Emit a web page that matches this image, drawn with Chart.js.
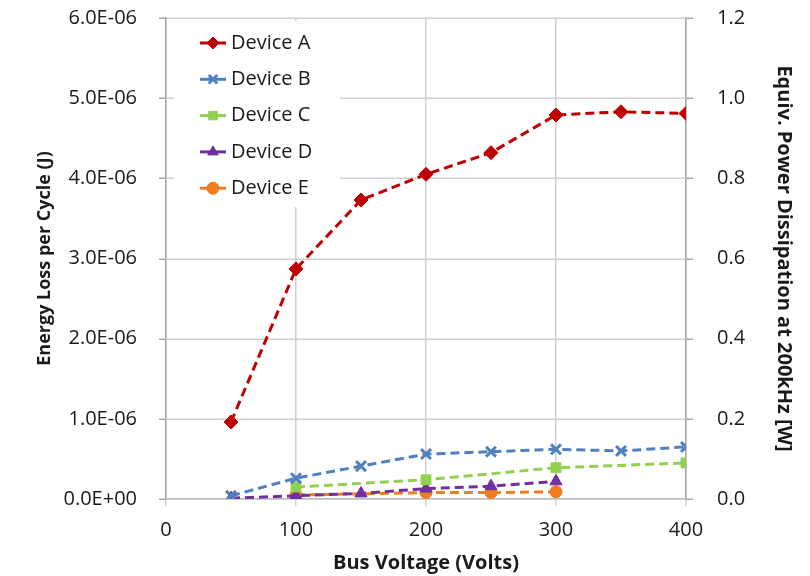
<!DOCTYPE html>
<html>
<head>
<meta charset="utf-8">
<script src="https://cdn.jsdelivr.net/npm/chart.js@4.4.1/dist/chart.umd.min.js"></script>
<style>
  html, body { margin: 0; padding: 0; background: #fff; }
  #wrap { width: 810px; height: 576px; }
</style>
</head>
<body>
<div id="wrap"><canvas id="lossChart" width="810" height="576"></canvas></div>
<script>
// Data (energy in J)
const voltsA = [50, 100, 150, 200, 250, 300, 350, 400];
const deviceA = [0.96e-6, 2.87e-6, 3.73e-6, 4.05e-6, 4.32e-6, 4.79e-6, 4.83e-6, 4.81e-6];
const voltsB = [50, 100, 150, 200, 250, 300, 350, 400];
const deviceB = [0.04e-6, 0.26e-6, 0.41e-6, 0.56e-6, 0.59e-6, 0.62e-6, 0.60e-6, 0.65e-6];
const voltsC = [100, 200, 300, 400];
const deviceC = [0.15e-6, 0.24e-6, 0.39e-6, 0.45e-6];
const voltsD = [50, 100, 150, 200, 250, 300];
const deviceD = [0.01e-6, 0.04e-6, 0.07e-6, 0.13e-6, 0.16e-6, 0.22e-6];
const voltsE = [100, 200, 250, 300];
const deviceE = [0.05e-6, 0.08e-6, 0.08e-6, 0.09e-6];

const xMax = 400, xStep = 100;
const energyMax = 6e-6, energyStep = 1e-6;
const powerMax = 1.2, powerStep = 0.2;

const FONT = "'Open Sans', 'Noto Sans', sans-serif";
const TEXT = '#1a1a1a';
const GRID = '#D0D0D0';
const AXIS = '#A6A6A6';

function pairs(xs, ys) {
    return xs.map((x, i) => ({ x: x, y: ys[i] }));
}

// Excel-like 0.0E+00 labels
function sciLabel(v) {
    if (Math.abs(v) < 1e-12) return '0.0E+00';
    let e = Math.floor(Math.log10(Math.abs(v)) + 1e-9);
    let m = (v / Math.pow(10, e)).toFixed(1);
    let sign = e < 0 ? '-' : '+';
    return m + 'E' + sign + String(Math.abs(e)).padStart(2, '0');
}

function series(label, xs, ys, color, style) {
    return {
        label: label,
        data: pairs(xs, ys),
        borderColor: color,
        backgroundColor: color,
        borderWidth: 3,
        borderDash: [9, 5],
        pointStyle: style,
        pointRadius: style === 'circle' ? 6 : 7,
        pointBorderWidth: style === 'crossRot' ? 3 : 1,
        pointBorderColor: color,
        pointBackgroundColor: color,
        tension: 0,
        yAxisID: 'y'
    };
}

// vertical axes: fixed width, no extra top/bottom room for the labels
function fixSide(width) {
    return (axis) => {
        axis.width = width;
        axis.paddingTop = 0;
        axis.paddingBottom = 0;
    };
}

// horizontal grid + outer tick marks, taken from the scales' own ticks
const valueGrid = {
    id: 'valueGrid',
    beforeDatasetsDraw(chart) {
        const ctx = chart.ctx;
        const area = chart.chartArea;
        const yS = chart.scales.y, y1S = chart.scales.y1;
        ctx.save();
        ctx.lineWidth = 1.5;
        yS.ticks.forEach(t => {
            const py = Math.round(yS.getPixelForValue(t.value)) + 0.25;
            ctx.strokeStyle = GRID;
            ctx.beginPath();
            ctx.moveTo(area.left, py);
            ctx.lineTo(area.right, py);
            ctx.stroke();
            ctx.strokeStyle = AXIS;
            ctx.beginPath();
            ctx.moveTo(area.left - 7, py);
            ctx.lineTo(area.left, py);
            ctx.stroke();
        });
        y1S.ticks.forEach(t => {
            const py = Math.round(y1S.getPixelForValue(t.value)) + 0.25;
            ctx.strokeStyle = AXIS;
            ctx.beginPath();
            ctx.moveTo(area.right, py);
            ctx.lineTo(area.right + 7, py);
            ctx.stroke();
        });
        ctx.restore();
    }
};

// Legend drawn inside the plot on a white box, like the original
const insideLegend = {
    id: 'insideLegend',
    afterDatasetsDraw(chart) {
        const ctx = chart.ctx;
        ctx.save();
        ctx.fillStyle = '#fff';
        ctx.fillRect(174, 21, 166, 186);
        chart.data.datasets.forEach((ds, i) => {
            const y = 43 + i * 36.3;
            ctx.setLineDash([]);
            ctx.strokeStyle = ds.borderColor;
            ctx.fillStyle = ds.borderColor;
            ctx.lineWidth = 3;
            ctx.beginPath();
            ctx.moveTo(200, y);
            ctx.lineTo(226, y);
            ctx.stroke();
            ctx.lineWidth = ds.pointBorderWidth;
            Chart.helpers.drawPoint(ctx, {
                pointStyle: ds.pointStyle,
                radius: 6,
                borderWidth: ds.pointBorderWidth
            }, 213, y);
            ctx.fillStyle = TEXT;
            ctx.font = '20px ' + FONT;
            ctx.textBaseline = 'middle';
            ctx.textAlign = 'left';
            ctx.fillText(ds.label, 231, y);
        });
        ctx.restore();
    }
};

const ctxLoss = document.getElementById('lossChart');
new Chart(ctxLoss, {
    type: 'line',
    data: {
        datasets: [
            series('Device A', voltsA, deviceA, '#C00000', 'rectRot'),
            series('Device B', voltsB, deviceB, '#4F81BD', 'crossRot'),
            series('Device C', voltsC, deviceC, '#92D050', 'rect'),
            series('Device D', voltsD, deviceD, '#7030A0', 'triangle'),
            series('Device E', voltsE, deviceE, '#F07D20', 'circle')
        ]
    },
    options: {
        responsive: false,
        animation: false,
        layout: { padding: { top: 18, left: 0, right: 0, bottom: 0 } },
        plugins: {
            legend: { display: false },
            tooltip: { enabled: false }
        },
        scales: {
            x: {
                type: 'linear',
                min: 0,
                max: xMax,
                afterFit: (axis) => { axis.height = 77; },
                grid: { color: GRID, lineWidth: 1.5, tickLength: 7 },
                border: { color: AXIS, width: 1.5 },
                ticks: { stepSize: xStep, color: TEXT, font: { family: FONT, size: 20 }, padding: 12 },
                title: {
                    display: true,
                    text: 'Bus Voltage (Volts)',
                    color: TEXT,
                    font: { family: FONT, size: 20, weight: 'bold' },
                    padding: { top: 2, bottom: 1 }
                }
            },
            y: {
                type: 'linear',
                position: 'left',
                min: 0,
                max: energyMax,
                afterFit: fixSide(166),
                grid: { display: false },
                border: { color: AXIS, width: 1.5 },
                ticks: {
                    stepSize: energyStep,
                    color: TEXT,
                    font: { family: FONT, size: 20 },
                    padding: 21,
                    callback: (v) => sciLabel(v)
                },
                title: {
                    display: true,
                    text: 'Energy Loss per Cycle (J)',
                    color: TEXT,
                    font: { family: FONT, size: 18, weight: 'bold' },
                    padding: { top: 34, bottom: 0 }
                }
            },
            y1: {
                type: 'linear',
                position: 'right',
                min: 0,
                max: powerMax,
                afterFit: fixSide(124),
                grid: { display: false },
                border: { color: AXIS, width: 1.5 },
                ticks: {
                    stepSize: powerStep,
                    color: TEXT,
                    font: { family: FONT, size: 20 },
                    padding: 23,
                    callback: (v) => v.toFixed(1)
                },
                title: {
                    display: true,
                    text: 'Equiv. Power Dissipation at 200kHz [W]',
                    color: TEXT,
                    font: { family: FONT, size: 20, weight: 'bold' },
                    padding: { top: 14, bottom: 0 }
                }
            }
        }
    },
    plugins: [valueGrid, insideLegend]
});
</script>
</body>
</html>
